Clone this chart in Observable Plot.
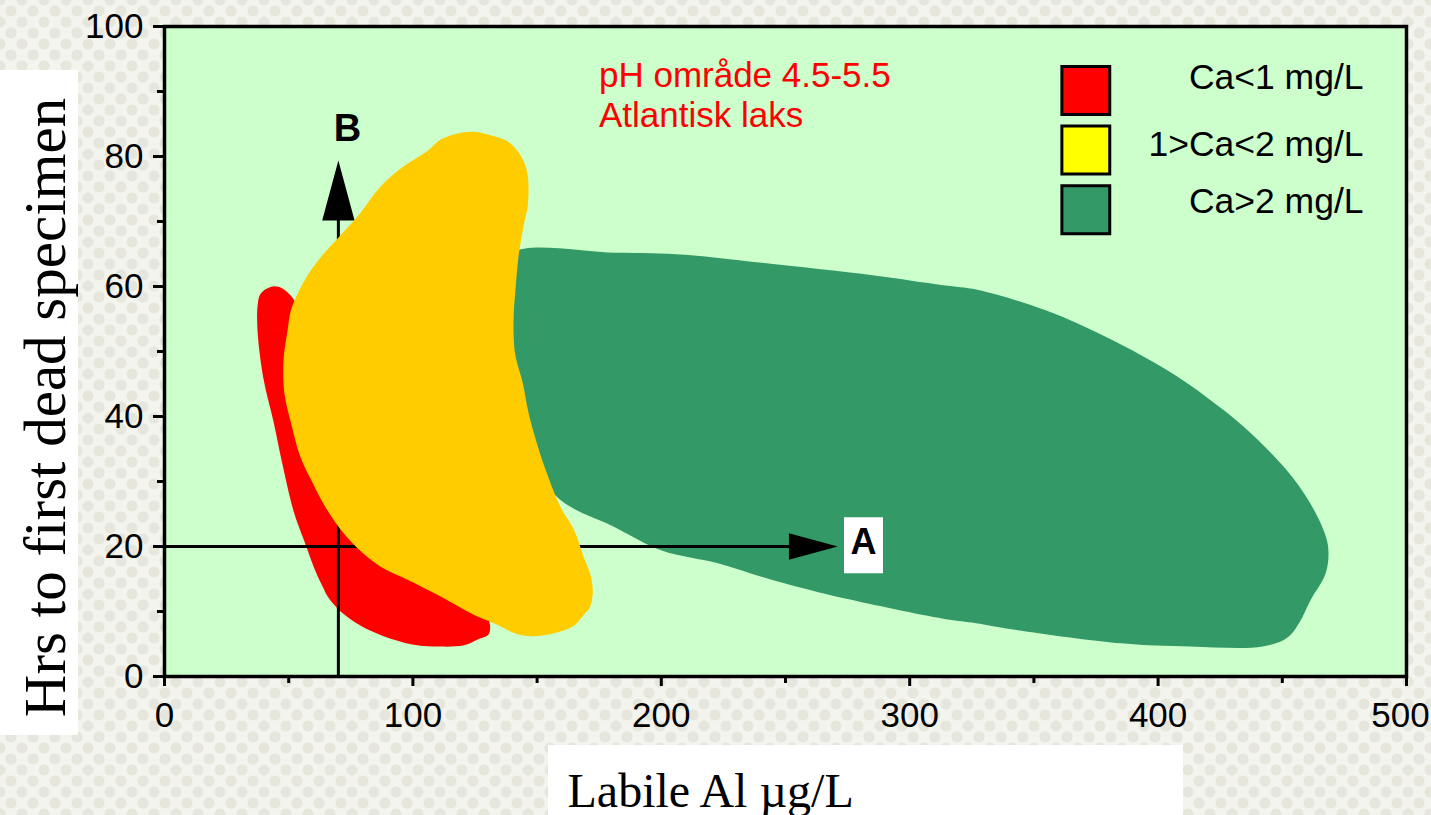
<!DOCTYPE html>
<html><head><meta charset="utf-8">
<script src="https://cdn.jsdelivr.net/npm/d3@7"></script>
<script src="https://cdn.jsdelivr.net/npm/@observablehq/plot@0.6"></script>
<style>
html,body{margin:0;padding:0;}
body{width:1431px;height:815px;overflow:hidden;position:relative;
 background-color:#f4f4ef;
 background-image: radial-gradient(circle, #e6e6dd 0 5px, transparent 6px), radial-gradient(circle, #e6e6dd 0 5px, transparent 6px);
 background-size: 22px 22px; background-position: 0 0, 11px 11px;}
#ybox{position:absolute;left:0;top:70px;width:78px;height:665px;background:#fff;}
#xbox{position:absolute;left:548px;top:745px;width:635px;height:70px;background:#fff;}
#chart{position:absolute;left:0;top:0;}
</style></head>
<body><div id="ybox"></div><div id="xbox"></div><div id="chart"></div>
<script>
// axis ticks
const xTicks = [0, 100, 200, 300, 400, 500];
const yTicks = [0, 20, 40, 60, 80, 100];
const xMinor = [50, 150, 250, 350, 450];
const yMinor = [10, 30, 50, 70, 90];

// categories
const caClasses = ["Ca<1 mg/L", "1>Ca<2 mg/L", "Ca>2 mg/L"];
const legendColors = ["#ff0000", "#ffff00", "#339966"];
const regionColors = ["#ff0000", "#ffcc00", "#339966"];

// region outlines (Labile Al µg/L, hours)
const redAl  = [38.7, 43.5, 47.5, 50.8, 52.8, 53.6, 53.6, 54.8, 60.0, 70.9, 84.2, 106.0, 124.5, 130.5, 130.5, 126.1, 120.5, 111.2, 100.3, 88.2, 79.0, 70.9, 65.7, 63.7, 60.8, 56.0, 52.0, 47.5, 43.9, 39.9, 37.5, 37.5];
const redHrs = [58.9, 60.0, 59.7, 58.6, 57.5, 56.8, 52.9, 44.6, 36.5, 28.2, 22.6, 14.9, 10.0, 8.6, 6.5, 5.7, 4.8, 4.6, 4.9, 6.2, 7.8, 10.0, 12.3, 13.8, 16.2, 21.1, 25.4, 32.6, 39.2, 45.7, 52.9, 57.1];

const yellowAl  = [116.4, 124.5, 132.6, 138.2, 142.6, 145.9, 146.3, 144.6, 142.6, 141.4, 140.6, 140.6, 141.4, 144.2, 146.7, 150.3, 154.3, 159.5, 164.8, 168.8, 171.6, 172.4, 171.2, 168.8, 164.8, 158.3, 148.7, 142.2, 132.6, 124.5, 111.2, 97.9, 87.0, 77.8, 70.9, 64.1, 59.6, 54.8, 50.8, 48.3, 47.9, 49.6, 50.8, 53.6, 57.6, 62.9, 69.7, 77.8, 87.0, 96.3, 106.0, 111.2];
const yellowHrs = [83.4, 83.8, 83.1, 82.3, 80.6, 77.8, 72.6, 69.4, 64.9, 60.0, 55.7, 52.0, 49.1, 45.2, 40.3, 35.4, 30.9, 26.0, 22.6, 18.3, 15.5, 12.8, 10.6, 9.5, 7.8, 6.8, 6.2, 6.5, 8.2, 9.5, 12.3, 14.9, 16.9, 19.7, 22.6, 26.5, 29.8, 33.7, 39.2, 43.5, 48.5, 53.4, 56.2, 58.9, 61.7, 64.5, 67.4, 70.8, 75.4, 78.5, 80.9, 82.6];

const greenAl  = [140.5, 181.7, 209.5, 239.3, 285.7, 313.5, 327.2, 355.0, 380.3, 403.7, 419.8, 433.9, 451.2, 461.3, 467.4, 468.6, 467.4, 461.3, 456.9, 452.1, 442.0, 413.0, 385.2, 338.8, 325.1, 313.5, 274.0, 257.9, 241.7, 223.2, 200.2, 181.7, 157.5, 146.0, 139.5, 137.0, 138.0];
const greenHrs = [65.2, 65.2, 64.9, 63.7, 61.7, 60.2, 59.5, 56.3, 52.0, 47.1, 42.9, 38.6, 32.0, 26.6, 21.7, 19.1, 15.8, 11.7, 8.3, 6.0, 4.6, 4.6, 5.1, 7.4, 8.3, 8.9, 12.0, 13.5, 15.2, 17.4, 19.4, 22.9, 27.8, 36.8, 47.1, 53.2, 60.9];

// arrows A (along Al at 20 h) and B (along hours at 70 µg/L)
const arrowA = {y: 20, from: 0, shaftEnd: 264, tip: 271, label: "A", labelX: 281.4, labelY: 20.2};
const arrowB = {x: 70, from: 0, shaftEnd: 76, tip: 79.4, label: "B", labelX: 73.7, labelY: 84.3};

// annotation
const noteLines = ["pH område 4.5-5.5", "Atlantisk laks"];
const noteX = [174.9, 174.9];
const noteY = [94.5, 88.3];

// legend placement (in chart units)
const legendBoxX = 370.9;
const legendBoxY = [90.15, 81.0, 71.8];
const legendTextX = 482.7;
const legendTextY = [92.2, 81.9, 73.0];

const pts = (xs, ys) => xs.map((x, i) => ({x, y: ys[i]}));
const regions = [pts(redAl, redHrs), pts(yellowAl, yellowHrs), pts(greenAl, greenHrs)];

const arrowHead = {draw(ctx, size) { const L = Math.sqrt(size / Math.PI); const w = L * 0.27; ctx.moveTo(0, 0); ctx.lineTo(w, L); ctx.lineTo(-w, L); ctx.closePath(); }};
const labelBox = {draw(ctx) { ctx.rect(-19.5, -28, 39, 56); }};

const sans = "'Liberation Sans', Arial, Helvetica, sans-serif";
const serif = "'Liberation Serif', 'Times New Roman', serif";

const regionMark = (k) => Plot.line(regions[k], {x: "x", y: "y", fill: regionColors[k], stroke: "none", curve: "catmull-rom-closed"});

const chart = Plot.plot({
  width: 1431, height: 815,
  marginLeft: 164, marginRight: 25, marginTop: 26, marginBottom: 139,
  x: {domain: [0, 500]},
  y: {domain: [0, 100]},
  style: {background: "transparent", fontFamily: sans, color: "black", overflow: "visible"},
  marks: [
    Plot.frame({fill: "#ccffcc"}),
    regionMark(2),
    regionMark(0),
    Plot.ruleY([arrowA], {y: "y", x1: "from", x2: "shaftEnd", stroke: "black", strokeWidth: 3}),
    Plot.ruleX([arrowB], {x: "x", y1: "from", y2: "shaftEnd", stroke: "black", strokeWidth: 3}),
    Plot.dot([arrowA], {x: "tip", y: "y", symbol: arrowHead, r: 48.7, rotate: 90, fill: "black", stroke: "none"}),
    Plot.dot([arrowB], {x: "x", y: "tip", symbol: arrowHead, r: 60, fill: "black", stroke: "none"}),
    regionMark(1),
    Plot.dot([arrowA], {x: "labelX", y: "labelY", symbol: labelBox, r: 10, fill: "white", stroke: "none"}),
    Plot.text([arrowA], {x: "labelX", y: "labelY", text: "label", fontSize: 36, fontWeight: "bold", dy: -3, fill: "black"}),
    Plot.text([arrowB], {x: "labelX", y: "labelY", text: "label", fontSize: 38, fontWeight: "bold", fill: "black"}),
    Plot.text(noteLines, {x: (d, i) => noteX[i], y: (d, i) => noteY[i], text: d => d, fill: "#ff0000", fontSize: 35, textAnchor: "start", lineAnchor: "top"}),
    Plot.dot(caClasses, {x: () => legendBoxX, y: (d, i) => legendBoxY[i], symbol: "square", r: 27, fill: (d, i) => legendColors[i], stroke: "black", strokeWidth: 3}),
    Plot.text(caClasses, {x: () => legendTextX, y: (d, i) => legendTextY[i], text: d => d, fontSize: 35.5, textAnchor: "end", fill: "black"}),
    Plot.axisY({ticks: yTicks, tickSize: 11, tickPadding: 10, fontSize: 35, strokeWidth: 3, label: null}),
    Plot.axisY({ticks: yMinor, tickSize: 7, tickFormat: () => "", strokeWidth: 3, label: null}),
    Plot.axisX({ticks: xTicks, tickSize: 10, tickFormat: () => "", strokeWidth: 3, label: null}),
    Plot.axisX({ticks: xTicks.slice(0, -1), tickSize: 0, tickPadding: 26, fontSize: 35, label: null}),
    Plot.axisX({ticks: xTicks.slice(-1), tickSize: 0, tickPadding: 26, fontSize: 35, dx: -6, label: null}),
    Plot.axisX({ticks: xMinor, tickSize: 7, tickFormat: () => "", strokeWidth: 3, label: null}),
    Plot.frame({stroke: "black", strokeWidth: 3.5}),
    Plot.text(["Hrs to first dead specimen"], {frameAnchor: "left", dx: -118, dy: 56, rotate: -90, fontSize: 59, fontFamily: serif, fill: "black", textAnchor: "middle", lineAnchor: "middle"}),
    Plot.text(["Labile Al µg/L"], {frameAnchor: "bottom-left", dx: 403, dy: 130, fontSize: 48, fontFamily: serif, fill: "black", textAnchor: "start", lineAnchor: "bottom"})
  ]
});
document.getElementById("chart").appendChild(chart);
</script></body></html>
